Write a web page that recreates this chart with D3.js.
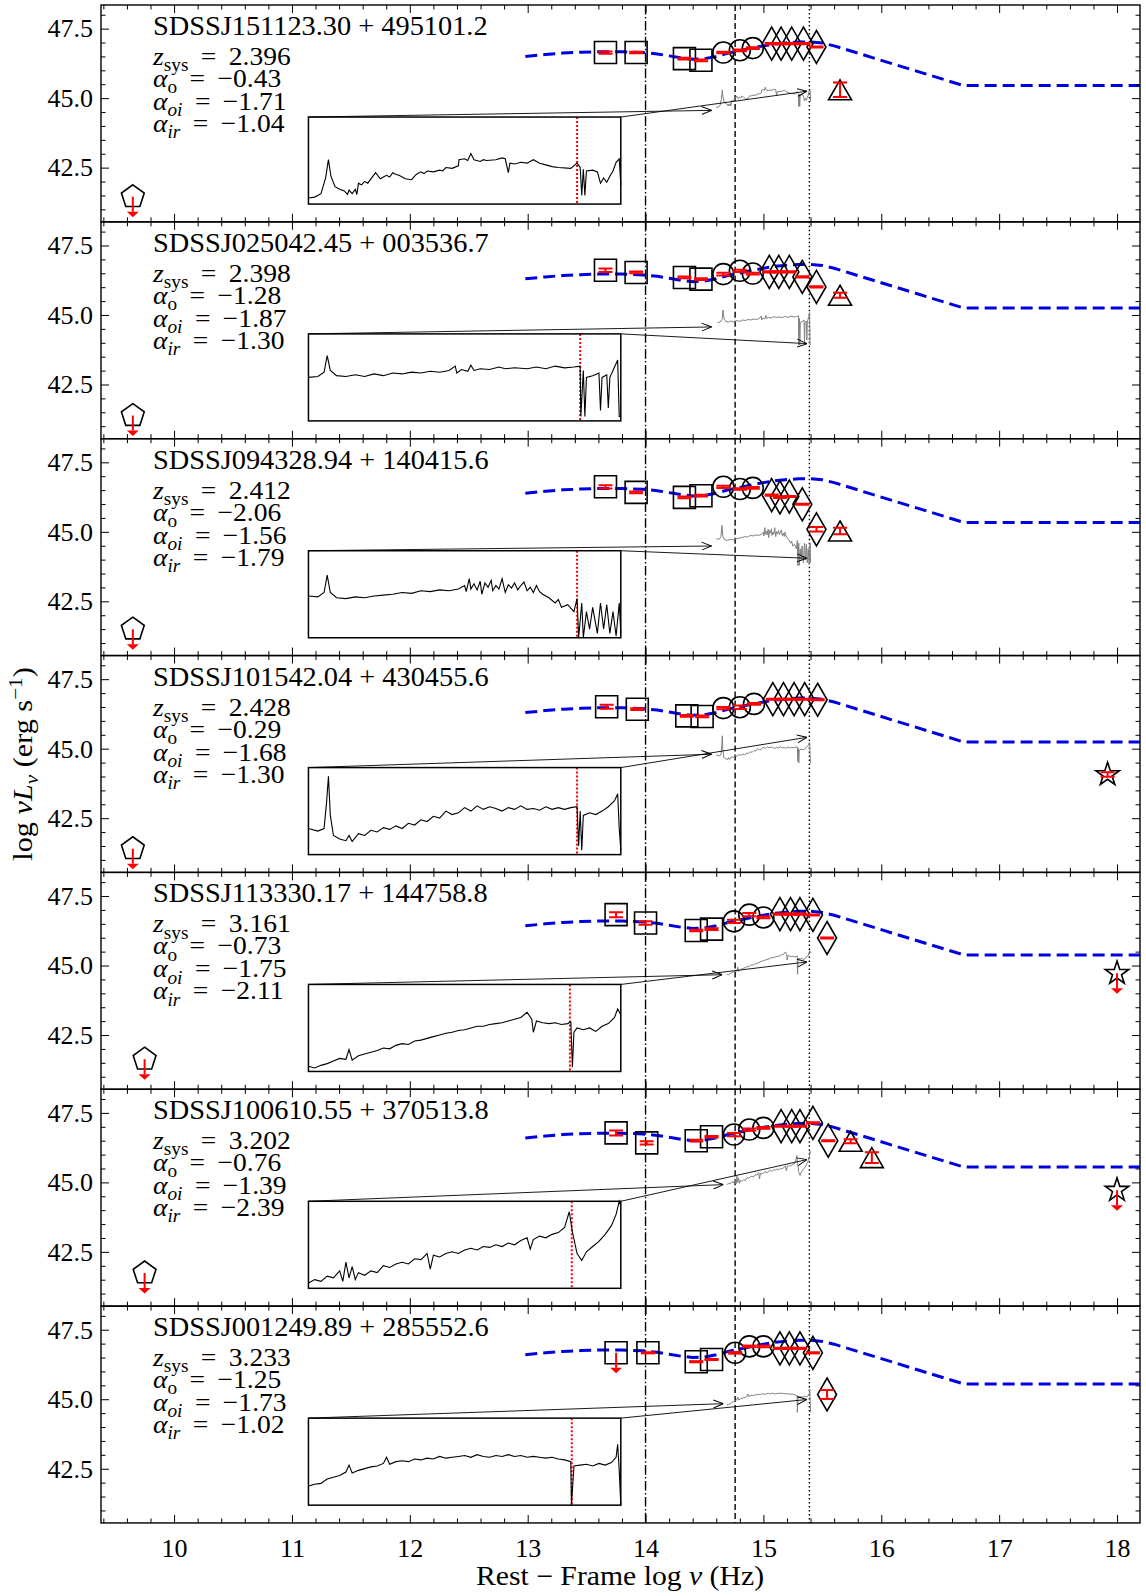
<!DOCTYPE html>
<html>
<head>
<meta charset="utf-8">
<script src="https://cdn.jsdelivr.net/npm/d3@7"></script>
<style>
  body { margin: 0; background: #fff; }
</style>
</head>
<body>
<svg id="chart" width="1146" height="1596"></svg>
<script>
// ---- data --------------------------------------------------------------
var panelNames = ["SDSSJ151123.30 + 495101.2", "SDSSJ025042.45 + 003536.7", "SDSSJ094328.94 + 140415.6",
    "SDSSJ101542.04 + 430455.6", "SDSSJ113330.17 + 144758.8", "SDSSJ100610.55 + 370513.8", "SDSSJ001249.89 + 285552.6"];
var zSys    = [2.396, 2.398, 2.412, 2.428, 3.161, 3.202, 3.233];
var alphaO  = [-0.43, -1.28, -2.06, -0.29, -0.73, -0.76, -1.25];
var alphaOI = [-1.71, -1.87, -1.56, -1.68, -1.75, -1.39, -1.73];
var alphaIR = [-1.04, -1.30, -1.79, -1.30, -2.11, -2.39, -1.02];

var xMajor = [10, 11, 12, 13, 14, 15, 16, 17, 18];
var yMajor = [42.5, 45.0, 47.5];
var yMinor = [41.0, 41.5, 42.0, 43.0, 43.5, 44.0, 44.5, 45.5, 46.0, 46.5, 47.0, 48.0];
var refX = [14.0, 14.76, 15.39];   // dash-dot, dashed, dotted

// mean quasar SED (blue dashed) per panel
var sedX  = [12.98, 13.15, 13.3, 13.45, 13.6, 13.8, 13.98, 14.1, 14.2, 14.3, 14.4, 14.5, 14.6, 14.7, 14.8, 14.9,
             15.0, 15.1, 15.2, 15.3, 15.4, 15.5, 15.6, 16.7, 18.2];
var sedY1 = [46.50, 46.57, 46.62, 46.65, 46.67, 46.67, 46.64, 46.59, 46.52, 46.45, 46.40, 46.42, 46.50, 46.62, 46.71, 46.80,
             46.88, 46.95, 46.99, 47.02, 47.02, 46.98, 46.88, 45.45, 45.45];
var sedY2 = [46.30, 46.37, 46.42, 46.45, 46.47, 46.47, 46.44, 46.39, 46.32, 46.25, 46.20, 46.22, 46.30, 46.42, 46.51, 46.60,
             46.68, 46.75, 46.79, 46.82, 46.82, 46.78, 46.68, 45.25, 45.25];
var sedY3 = [46.39, 46.46, 46.51, 46.54, 46.56, 46.56, 46.53, 46.48, 46.41, 46.34, 46.29, 46.31, 46.39, 46.51, 46.60, 46.69,
             46.77, 46.84, 46.88, 46.91, 46.91, 46.87, 46.77, 45.34, 45.34];
var sedY4 = [46.30, 46.37, 46.42, 46.45, 46.47, 46.47, 46.44, 46.39, 46.32, 46.25, 46.20, 46.22, 46.30, 46.42, 46.51, 46.60,
             46.68, 46.75, 46.79, 46.82, 46.82, 46.78, 46.68, 45.24, 45.24];
var sedY5 = [46.43, 46.50, 46.55, 46.58, 46.60, 46.60, 46.57, 46.52, 46.45, 46.38, 46.33, 46.35, 46.43, 46.55, 46.64, 46.73,
             46.81, 46.88, 46.92, 46.95, 46.95, 46.91, 46.81, 45.38, 45.38];
var sedY6 = [46.60, 46.67, 46.72, 46.75, 46.77, 46.77, 46.74, 46.69, 46.62, 46.55, 46.50, 46.52, 46.60, 46.72, 46.81, 46.90,
             46.98, 47.05, 47.09, 47.12, 47.12, 47.08, 46.98, 45.55, 45.55];
var sedY7 = [46.60, 46.67, 46.72, 46.75, 46.77, 46.77, 46.74, 46.69, 46.62, 46.55, 46.50, 46.52, 46.60, 46.72, 46.81, 46.90,
             46.98, 47.05, 47.09, 47.12, 47.12, 47.08, 46.98, 45.55, 45.55];
var sedYs = [sedY1, sedY2, sedY3, sedY4, sedY5, sedY6, sedY7];

// photometry: [marker, log nu, log nuLnu, error, upper limit]
var phot1 = [["s",13.66,46.64,0.04],["s",13.92,46.64,0.03],["s",14.33,46.42,0.03],["s",14.47,46.36,0.03],
    ["o",14.66,46.64,0.03],["o",14.80,46.72,0.03],["o",14.91,46.80,0.03],
    ["d",15.07,46.96,0.02],["d",15.15,46.96,0.02],["d",15.24,46.96,0.02],["d",15.34,46.96,0.02],["d",15.45,46.84,0.02],
    ["^",15.65,45.30,0.26],["p",9.65,41.45,0,1]];
var phot2 = [["s",13.66,46.61,0.06],["s",13.92,46.53,0.03],["s",14.33,46.35,0.03],["s",14.47,46.29,0.03],
    ["o",14.66,46.47,0.05],["o",14.80,46.59,0.04],["o",14.91,46.49,0.03],
    ["d",15.05,46.55,0.02],["d",15.13,46.55,0.02],["d",15.22,46.55,0.02],["d",15.33,46.37,0.02],["d",15.45,46.01,0.02],
    ["^",15.65,45.71,0.09],["p",9.65,41.38,0,1]];
var phot3 = [["s",13.66,46.62,0.06],["s",13.92,46.42,0.03],["s",14.33,46.24,0.03],["s",14.47,46.30,0.03],
    ["o",14.66,46.62,0.04],["o",14.80,46.54,0.03],["o",14.91,46.58,0.03],
    ["d",15.07,46.32,0.02],["d",15.14,46.24,0.02],["d",15.22,46.27,0.02],["d",15.33,45.99,0.02],["d",15.45,45.09,0.08],
    ["^",15.65,45.03,0.12],["p",9.65,41.50,0,1]];
var phot4 = [["s",13.67,46.51,0.07],["s",13.93,46.42,0.03],["s",14.35,46.18,0.03],["s",14.48,46.16,0.03],
    ["o",14.66,46.46,0.04],["o",14.80,46.49,0.06],["o",14.92,46.61,0.03],
    ["d",15.08,46.78,0.02],["d",15.17,46.78,0.02],["d",15.26,46.78,0.02],["d",15.35,46.78,0.02],["d",15.46,46.76,0.02],
    ["*",17.92,44.07,0.08],["p",9.65,41.40,0,1]];
var phot5 = [["s",13.75,46.83,0.09],["s",14.00,46.53,0.06],["s",14.43,46.26,0.03],["s",14.56,46.31,0.03],
    ["o",14.75,46.59,0.06],["o",14.88,46.83,0.06],["o",15.00,46.73,0.03],
    ["d",15.14,46.85,0.02],["d",15.23,46.85,0.02],["d",15.31,46.85,0.02],["d",15.42,46.82,0.02],["d",15.54,45.99,0.02],
    ["*",18.0,44.72,0,1],["p",9.75,41.63,0,1]];
var phot6 = [["s",13.75,46.78,0.09],["s",14.01,46.42,0.06],["s",14.43,46.50,0.03],["s",14.56,46.64,0.03],
    ["o",14.75,46.72,0.06],["o",14.88,46.90,0.04],["o",15.00,46.96,0.03],
    ["d",15.15,47.02,0.02],["d",15.24,47.02,0.02],["d",15.31,47.02,0.02],["d",15.42,47.14,0.02],["d",15.55,46.50,0.02],
    ["^",15.74,46.48,0.07],["^",15.92,45.89,0.19],["*",18.0,44.72,0,1],["p",9.75,41.74,0,1]];
var phot7 = [["s",13.75,46.67,0,1],["s",14.02,46.67,0.02],["s",14.43,46.35,0.02],["s",14.56,46.43,0.02],
    ["o",14.76,46.67,0.03],["o",14.88,46.90,0.03],["o",15.00,46.90,0.03],
    ["d",15.14,46.83,0.02],["d",15.22,46.83,0.02],["d",15.31,46.83,0.02],["d",15.42,46.67,0.02],["d",15.54,45.17,0.16]];
var photometry = [phot1, phot2, phot3, phot4, phot5, phot6, phot7];

// spectra: [fraction across inset, height in inset (0..1)]
var spec1 = [[0,0.07],[0.02,0.08],[0.04,0.12],[0.055,0.30],[0.064,0.51],[0.072,0.32],[0.085,0.20],[0.10,0.17],[0.115,0.15],
    [0.125,0.11],[0.13,0.16],[0.14,0.12],[0.15,0.17],[0.155,0.11],[0.16,0.24],[0.17,0.22],[0.18,0.26],[0.19,0.24],[0.20,0.29],
    [0.215,0.36],[0.23,0.29],[0.24,0.31],[0.25,0.33],[0.26,0.31],[0.27,0.36],[0.28,0.34],[0.29,0.33],[0.31,0.29],[0.33,0.28],
    [0.345,0.34],[0.36,0.37],[0.37,0.35],[0.38,0.38],[0.40,0.37],[0.42,0.39],[0.43,0.38],[0.44,0.42],[0.46,0.41],[0.48,0.44],
    [0.482,0.51],[0.50,0.52],[0.51,0.50],[0.52,0.58],[0.53,0.51],[0.55,0.49],[0.56,0.51],[0.57,0.50],[0.60,0.51],[0.62,0.53],
    [0.63,0.52],[0.64,0.36],[0.645,0.47],[0.66,0.46],[0.68,0.48],[0.70,0.47],[0.72,0.51],[0.74,0.47],[0.76,0.45],[0.78,0.43],
    [0.80,0.42],[0.84,0.41],[0.86,0.47],[0.87,0.42],[0.875,0.10],[0.88,0.40],[0.885,0.10],[0.89,0.38],[0.91,0.39],[0.925,0.37],
    [0.935,0.24],[0.945,0.30],[0.955,0.25],[0.965,0.32],[0.975,0.38],[0.985,0.48],[0.995,0.52],[1.0,0.22]];
var spec2 = [[0,0.50],[0.03,0.51],[0.05,0.56],[0.06,0.75],[0.07,0.58],[0.09,0.52],[0.12,0.51],[0.15,0.53],[0.18,0.51],
    [0.21,0.54],[0.24,0.52],[0.27,0.55],[0.30,0.54],[0.33,0.56],[0.36,0.55],[0.39,0.57],[0.42,0.56],[0.45,0.58],[0.47,0.63],
    [0.475,0.55],[0.49,0.59],[0.51,0.57],[0.52,0.64],[0.53,0.58],[0.55,0.60],[0.58,0.59],[0.61,0.62],[0.63,0.60],[0.66,0.61],
    [0.70,0.60],[0.73,0.62],[0.76,0.60],[0.79,0.63],[0.82,0.61],[0.85,0.62],[0.87,0.63],[0.872,0.05],[0.88,0.58],[0.885,0.05],
    [0.89,0.50],[0.91,0.52],[0.93,0.55],[0.935,0.12],[0.94,0.50],[0.955,0.53],[0.96,0.15],[0.965,0.50],[0.98,0.62],[0.99,0.70],
    [0.995,0.05],[1.0,0.05]];
var spec3 = [[0,0.48],[0.03,0.47],[0.05,0.52],[0.06,0.72],[0.07,0.52],[0.09,0.46],[0.12,0.45],[0.15,0.47],[0.18,0.46],
    [0.21,0.48],[0.24,0.49],[0.27,0.50],[0.30,0.52],[0.33,0.51],[0.36,0.54],[0.39,0.53],[0.42,0.55],[0.45,0.54],[0.48,0.56],
    [0.50,0.60],[0.505,0.53],[0.515,0.68],[0.52,0.56],[0.53,0.62],[0.54,0.55],[0.55,0.65],[0.555,0.50],[0.565,0.63],[0.575,0.58],
    [0.585,0.66],[0.59,0.54],[0.60,0.60],[0.61,0.56],[0.62,0.68],[0.63,0.52],[0.64,0.61],[0.65,0.57],[0.66,0.63],[0.67,0.55],
    [0.68,0.60],[0.69,0.64],[0.70,0.54],[0.71,0.58],[0.72,0.52],[0.73,0.60],[0.74,0.53],[0.75,0.50],[0.77,0.46],[0.79,0.40],
    [0.80,0.44],[0.81,0.35],[0.83,0.38],[0.85,0.30],[0.86,0.45],[0.865,0.00],[0.875,0.40],[0.88,0.00],[0.89,0.30],[0.90,0.10],
    [0.91,0.35],[0.925,0.05],[0.935,0.40],[0.945,0.10],[0.955,0.38],[0.965,0.05],[0.975,0.30],[0.985,0.02],[0.995,0.40],[1.0,0.05]];
var spec4 = [[0,0.30],[0.03,0.27],[0.05,0.30],[0.058,0.60],[0.064,0.90],[0.07,0.45],[0.08,0.22],[0.10,0.18],[0.12,0.16],
    [0.13,0.22],[0.14,0.15],[0.16,0.24],[0.18,0.22],[0.20,0.28],[0.22,0.26],[0.24,0.31],[0.26,0.29],[0.28,0.33],[0.30,0.30],
    [0.32,0.36],[0.34,0.34],[0.36,0.40],[0.38,0.38],[0.40,0.44],[0.42,0.42],[0.44,0.50],[0.46,0.46],[0.48,0.48],[0.50,0.54],
    [0.52,0.50],[0.54,0.56],[0.56,0.52],[0.58,0.55],[0.60,0.53],[0.62,0.50],[0.64,0.54],[0.66,0.52],[0.68,0.56],[0.70,0.52],
    [0.72,0.53],[0.74,0.51],[0.76,0.55],[0.78,0.52],[0.80,0.54],[0.82,0.52],[0.84,0.54],[0.86,0.55],[0.865,0.10],[0.87,0.50],
    [0.875,0.05],[0.88,0.45],[0.90,0.48],[0.92,0.46],[0.94,0.50],[0.96,0.55],[0.98,0.62],[0.99,0.70],[0.995,0.30],[1.0,0.05]];
var spec5 = [[0,0.06],[0.02,0.04],[0.04,0.07],[0.06,0.09],[0.08,0.12],[0.10,0.15],[0.12,0.14],[0.13,0.25],[0.14,0.13],
    [0.16,0.18],[0.18,0.20],[0.20,0.22],[0.22,0.24],[0.24,0.27],[0.26,0.26],[0.28,0.30],[0.30,0.32],[0.32,0.31],[0.34,0.35],
    [0.36,0.36],[0.38,0.38],[0.40,0.40],[0.42,0.42],[0.44,0.44],[0.46,0.45],[0.48,0.47],[0.50,0.48],[0.52,0.50],[0.54,0.52],
    [0.56,0.52],[0.58,0.54],[0.60,0.55],[0.62,0.56],[0.64,0.58],[0.66,0.60],[0.68,0.62],[0.70,0.68],[0.715,0.60],[0.72,0.45],
    [0.73,0.58],[0.75,0.56],[0.77,0.55],[0.79,0.56],[0.81,0.54],[0.83,0.55],[0.84,0.57],[0.845,0.05],[0.85,0.45],[0.86,0.50],
    [0.88,0.48],[0.90,0.50],[0.92,0.46],[0.94,0.52],[0.96,0.55],[0.98,0.62],[0.99,0.72],[1.0,0.65]];
var spec6 = [[0,0.06],[0.02,0.10],[0.04,0.08],[0.06,0.14],[0.08,0.12],[0.10,0.20],[0.11,0.08],[0.12,0.30],[0.13,0.12],
    [0.14,0.25],[0.15,0.10],[0.16,0.18],[0.18,0.15],[0.20,0.20],[0.22,0.18],[0.24,0.26],[0.26,0.24],[0.28,0.28],[0.30,0.30],
    [0.32,0.28],[0.34,0.34],[0.36,0.33],[0.38,0.40],[0.39,0.22],[0.40,0.38],[0.42,0.36],[0.44,0.40],[0.46,0.42],[0.48,0.40],
    [0.50,0.44],[0.52,0.46],[0.54,0.44],[0.56,0.48],[0.58,0.47],[0.60,0.50],[0.62,0.48],[0.64,0.52],[0.66,0.50],[0.68,0.55],
    [0.70,0.58],[0.71,0.45],[0.72,0.56],[0.74,0.60],[0.76,0.58],[0.78,0.62],[0.80,0.64],[0.82,0.70],[0.835,0.88],[0.845,0.65],
    [0.86,0.40],[0.875,0.32],[0.89,0.42],[0.91,0.48],[0.93,0.54],[0.95,0.62],[0.97,0.72],[0.985,0.85],[0.995,1.0],[1.0,0.95]];
var spec7 = [[0,0.22],[0.02,0.24],[0.04,0.25],[0.06,0.30],[0.08,0.32],[0.10,0.34],[0.12,0.38],[0.13,0.46],[0.14,0.37],
    [0.16,0.40],[0.18,0.42],[0.20,0.44],[0.22,0.45],[0.24,0.48],[0.25,0.55],[0.26,0.47],[0.28,0.50],[0.30,0.51],[0.32,0.50],
    [0.34,0.53],[0.36,0.52],[0.38,0.54],[0.40,0.53],[0.42,0.56],[0.44,0.54],[0.46,0.55],[0.48,0.56],[0.50,0.57],[0.52,0.55],
    [0.54,0.58],[0.56,0.56],[0.58,0.55],[0.60,0.57],[0.62,0.56],[0.64,0.58],[0.66,0.56],[0.68,0.57],[0.70,0.55],[0.72,0.56],
    [0.74,0.55],[0.76,0.54],[0.78,0.55],[0.80,0.53],[0.82,0.52],[0.84,0.50],[0.842,0.0],[0.85,0.45],[0.87,0.46],[0.89,0.47],
    [0.91,0.45],[0.93,0.48],[0.95,0.46],[0.97,0.49],[0.985,0.55],[0.99,0.70],[0.995,0.40],[1.0,0.0]];
var spectra = [spec1, spec2, spec3, spec4, spec5, spec6, spec7];

// where the spectrum sits in the main panel (log nu range, log nuLnu at height 0 and 1)
var grayX0 = [14.60, 14.61, 14.60, 14.60, 14.69, 14.69, 14.69];
var grayX1 = [15.40, 15.40, 15.40, 15.40, 15.40, 15.40, 15.40];
var grayLo = [44.56, 43.83, 43.79, 44.43, 44.62, 44.84, 44.53];
var grayHi = [46.00, 45.63, 45.79, 45.58, 45.90, 46.12, 45.73];
var lyaFrac = [0.86, 0.87, 0.86, 0.86, 0.837, 0.843, 0.843];   // red dotted line in inset
var arrowLeft  = [[14.56,44.56],[14.56,44.57],[14.56,44.49],[14.56,44.80],[14.65,44.67],[14.66,44.92],[14.66,44.84]];
var arrowRight = [[15.37,45.25],[15.37,43.97],[15.37,44.05],[15.37,45.41],[15.37,45.13],[15.37,45.82],[15.37,44.99]];
var insetX = [11.14, 13.79];
var insetY = [41.19, 44.32];

// ---- drawing -----------------------------------------------------------
var FONT = '"Liberation Serif", "Times New Roman", serif';
var svg = d3.select("#chart");
var L = 101, R = 1140, T0 = 5, PH = 216.85;
var x = d3.scaleLinear().domain([9.38, 18.195]).range([L, R]);
var xMinor = d3.range(9.4, 18.19, 0.2).filter(function(v) { return Math.abs(v - Math.round(v)) > 0.05; });
var refDash = ["9.6,2.4,1.5,2.4", "6,3", "1.5,2.5"];
var fmt1 = d3.format(".1f"), fmt2 = d3.format(".2f"), fmt3 = d3.format(".3f");
var EQ = " \u2009=\u2009 ";

var defs = svg.append("defs");
defs.append("marker").attr("id", "ahead")
    .attr("viewBox", "0 0 10 10").attr("refX", 10).attr("refY", 5)
    .attr("markerWidth", 10).attr("markerHeight", 10)
    .attr("markerUnits", "userSpaceOnUse").attr("orient", "auto")
  .append("path").attr("d", "M0,1 L10,5 L0,9").attr("fill", "none")
    .attr("stroke", "#000").attr("stroke-width", 1);

function markerPath(m) {
    var pts, i, a;
    if (m == "s") return "M-11,-11H11V11H-11Z";
    if (m == "o") return "M10.5,0A10.5,10.5 0 1,1 -10.5,0A10.5,10.5 0 1,1 10.5,0Z";
    if (m == "d") return "M0,-16.5L9.5,0L0,16.5L-9.5,0Z";
    if (m == "^") return "M0,-10L11.5,10L-11.5,10Z";
    pts = [];
    if (m == "p") {
        for (i = 0; i < 5; i++) { a = -Math.PI / 2 + i * 2 * Math.PI / 5; pts.push([12 * Math.cos(a), 12 * Math.sin(a)]); }
    } else {
        for (i = 0; i < 10; i++) { a = -Math.PI / 2 + i * Math.PI / 5; var r = i % 2 ? 4.7 : 12.3; pts.push([r * Math.cos(a), r * Math.sin(a)]); }
    }
    return "M" + pts.map(function(p) { return p[0].toFixed(2) + "," + p[1].toFixed(2); }).join("L") + "Z";
}

function richText(sel, parts, size) {
    var shift = 0;
    parts.forEach(function(p) {
        var st = p[1];
        var sub = st.indexOf("sub") >= 0, sup = st.indexOf("sup") >= 0;
        var target = sub ? size * 0.24 : (sup ? -size * 0.38 : 0);
        var ts = sel.append("tspan").text(p[0]).attr("dy", target - shift);
        shift = target;
        if (sub || sup) ts.attr("font-size", size * 0.7);
        if (st == "i" || st == "subi") ts.attr("font-style", "italic");
    });
}

function styleAxis(g, size) {
    g.attr("font-family", FONT).attr("font-size", size);
    g.select(".domain").remove();
    g.selectAll(".tick line").attr("stroke", "#000").attr("stroke-width", 1);
    g.selectAll(".tick text").attr("fill", "#000").attr("font-family", FONT);
}

panelNames.forEach(function(name, i) {
    var top = T0 + i * PH, bot = top + PH;
    var y = d3.scaleLinear().domain([40.55, 48.35]).range([bot, top]);
    var g = svg.append("g").attr("class", "panel");

    defs.append("clipPath").attr("id", "clip" + i)
      .append("rect").attr("x", L).attr("y", top).attr("width", R - L).attr("height", PH);
    var pg = g.append("g").attr("clip-path", "url(#clip" + i + ")");

    // vertical reference lines
    refX.forEach(function(v, k) {
        pg.append("line").attr("x1", x(v)).attr("x2", x(v)).attr("y1", top).attr("y2", bot)
            .attr("stroke", "#000").attr("stroke-width", 1.4).attr("stroke-dasharray", refDash[k]);
    });

    // inset with the spectrum
    var ix = d3.scaleLinear().domain([0, 1]).range([x(insetX[0]), x(insetX[1])]);
    var iy = d3.scaleLinear().domain([0, 1]).range([y(insetY[0]), y(insetY[1])]);
    pg.append("line").attr("x1", ix(lyaFrac[i])).attr("x2", ix(lyaFrac[i]))
        .attr("y1", iy(1)).attr("y2", iy(0))
        .attr("stroke", "#ff0000").attr("stroke-width", 2).attr("stroke-dasharray", "2,2");
    pg.append("path").datum(spectra[i])
        .attr("d", d3.line().x(function(d) { return ix(d[0]); }).y(function(d) { return iy(d[1]); }))
        .attr("fill", "none").attr("stroke", "#000").attr("stroke-width", 1.1);
    pg.append("rect").attr("x", ix(0)).attr("y", iy(1)).attr("width", ix(1) - ix(0)).attr("height", iy(0) - iy(1))
        .attr("fill", "none").attr("stroke", "#000").attr("stroke-width", 1.5);

    // the same spectrum in the main panel
    var gx = d3.scaleLinear().domain([0, 1]).range([x(grayX0[i]), x(grayX1[i])]);
    var gy = d3.scaleLinear().domain([0, 1]).range([y(grayLo[i]), y(grayHi[i])]);
    pg.append("path").datum(spectra[i])
        .attr("d", d3.line().x(function(d) { return gx(d[0]); }).y(function(d) { return gy(d[1]); }))
        .attr("fill", "none").attr("stroke", "#808080").attr("stroke-width", 1);

    // arrows from the inset corners
    [[ix(0), arrowLeft[i]], [ix(1), arrowRight[i]]].forEach(function(a) {
        pg.append("line").attr("x1", a[0]).attr("y1", iy(1))
            .attr("x2", x(a[1][0])).attr("y2", y(a[1][1]))
            .attr("stroke", "#000").attr("stroke-width", 0.9).attr("marker-end", "url(#ahead)");
    });

    // SED template
    var sed = sedX.map(function(v, k) { return [v, sedYs[i][k]]; });
    pg.append("path").datum(sed)
        .attr("d", d3.line().x(function(d) { return x(d[0]); }).y(function(d) { return y(d[1]); }))
        .attr("fill", "none").attr("stroke", "#0000e0").attr("stroke-width", 3).attr("stroke-dasharray", "12,6");

    // photometric points
    var pts = photometry[i];
    pg.selectAll(".mk").data(pts).enter().append("path").attr("class", "mk")
        .attr("transform", function(d) { return "translate(" + x(d[1]) + "," + y(d[2]) + ")"; })
        .attr("d", function(d) { return markerPath(d[0]); })
        .attr("fill", "none").attr("stroke", "#000").attr("stroke-width", 1.6).attr("stroke-linejoin", "miter");

    pts.forEach(function(d) {
        var cx = x(d[1]), cy = y(d[2]);
        if (d[4]) {
            pg.append("line").attr("x1", cx).attr("x2", cx).attr("y1", cy).attr("y2", cy + 15)
                .attr("stroke", "#ff0000").attr("stroke-width", 2);
            pg.append("path").attr("d", "M" + (cx - 6) + "," + (cy + 15) + "L" + (cx + 6) + "," + (cy + 15) + "L" + cx + "," + (cy + 20.5) + "Z")
                .attr("fill", "#ff0000");
        } else {
            var y1 = y(d[2] + d[3]), y2 = y(d[2] - d[3]);
            pg.append("line").attr("x1", cx).attr("x2", cx).attr("y1", y1).attr("y2", y2)
                .attr("stroke", "#ff0000").attr("stroke-width", 2);
            [y1, y2].forEach(function(yy) {
                pg.append("line").attr("x1", cx - 7).attr("x2", cx + 7).attr("y1", yy).attr("y2", yy)
                    .attr("stroke", "#ff0000").attr("stroke-width", 2);
            });
        }
    });

    // frame
    g.append("rect").attr("x", L).attr("y", top).attr("width", R - L).attr("height", PH)
        .attr("fill", "none").attr("stroke", "#000").attr("stroke-width", 1.4);

    // ticks (inward on all four sides)
    var bx = g.append("g").attr("transform", "translate(0," + bot + ")")
        .call(d3.axisBottom(x).tickValues(xMajor).tickSize(-8).tickPadding(16)
            .tickFormat(i == panelNames.length - 1 ? d3.format("d") : ""));
    styleAxis(bx, 26);
    styleAxis(g.append("g").attr("transform", "translate(0," + bot + ")")
        .call(d3.axisBottom(x).tickValues(xMinor).tickSize(-4.5).tickFormat("")), 10);
    styleAxis(g.append("g").attr("transform", "translate(0," + top + ")")
        .call(d3.axisTop(x).tickValues(xMajor).tickSize(-8).tickFormat("")), 10);
    styleAxis(g.append("g").attr("transform", "translate(0," + top + ")")
        .call(d3.axisTop(x).tickValues(xMinor).tickSize(-4.5).tickFormat("")), 10);

    styleAxis(g.append("g").attr("transform", "translate(" + L + ",0)")
        .call(d3.axisLeft(y).tickValues(yMajor).tickSize(-8).tickPadding(8).tickFormat(fmt1)), 26);
    styleAxis(g.append("g").attr("transform", "translate(" + L + ",0)")
        .call(d3.axisLeft(y).tickValues(yMinor).tickSize(-4.5).tickFormat("")), 10);
    styleAxis(g.append("g").attr("transform", "translate(" + R + ",0)")
        .call(d3.axisRight(y).tickValues(yMajor).tickSize(-8).tickFormat("")), 10);
    styleAxis(g.append("g").attr("transform", "translate(" + R + ",0)")
        .call(d3.axisRight(y).tickValues(yMinor).tickSize(-4.5).tickFormat("")), 10);

    // annotations
    g.append("text").attr("transform", "translate(153," + (top + 30) + ") scale(1.05,1)")
        .attr("font-family", FONT).attr("font-size", 27).text(name);
    var lines = [
        [["z", "i"], ["sys", "sub"], [EQ + fmt3(zSys[i]), ""]],
        [["α", "i"], ["o", "sub"], [EQ + fmt2(alphaO[i]), ""]],
        [["α", "i"], ["oi", "subi"], [EQ + fmt2(alphaOI[i]), ""]],
        [["α", "i"], ["ir", "subi"], [EQ + fmt2(alphaIR[i]), ""]]
    ];
    var lineY = [60, 82, 105, 127];
    lines.forEach(function(parts, k) {
        var t = g.append("text").attr("transform", "translate(153," + (top + lineY[k]) + ") scale(1.06,1)")
            .attr("font-family", FONT).attr("font-size", 26);
        richText(t, parts, 26);
    });
});

// axis titles
var xl = svg.append("text").attr("transform", "translate(620,1585) scale(1.1,1)").attr("text-anchor", "middle")
    .attr("font-family", FONT).attr("font-size", 27);
richText(xl, [["Rest − Frame log ", ""], ["ν", "i"], [" (Hz)", ""]], 27);

var yl = svg.append("text").attr("transform", "translate(32,764) rotate(-90) scale(1.12,1)").attr("text-anchor", "middle")
    .attr("font-family", FONT).attr("font-size", 27);
richText(yl, [["log ", ""], ["ν", "i"], ["L", "i"], ["ν", "subi"], [" (erg s", ""], ["−1", "sup"], [")", ""]], 27);
</script>
</body>
</html>
